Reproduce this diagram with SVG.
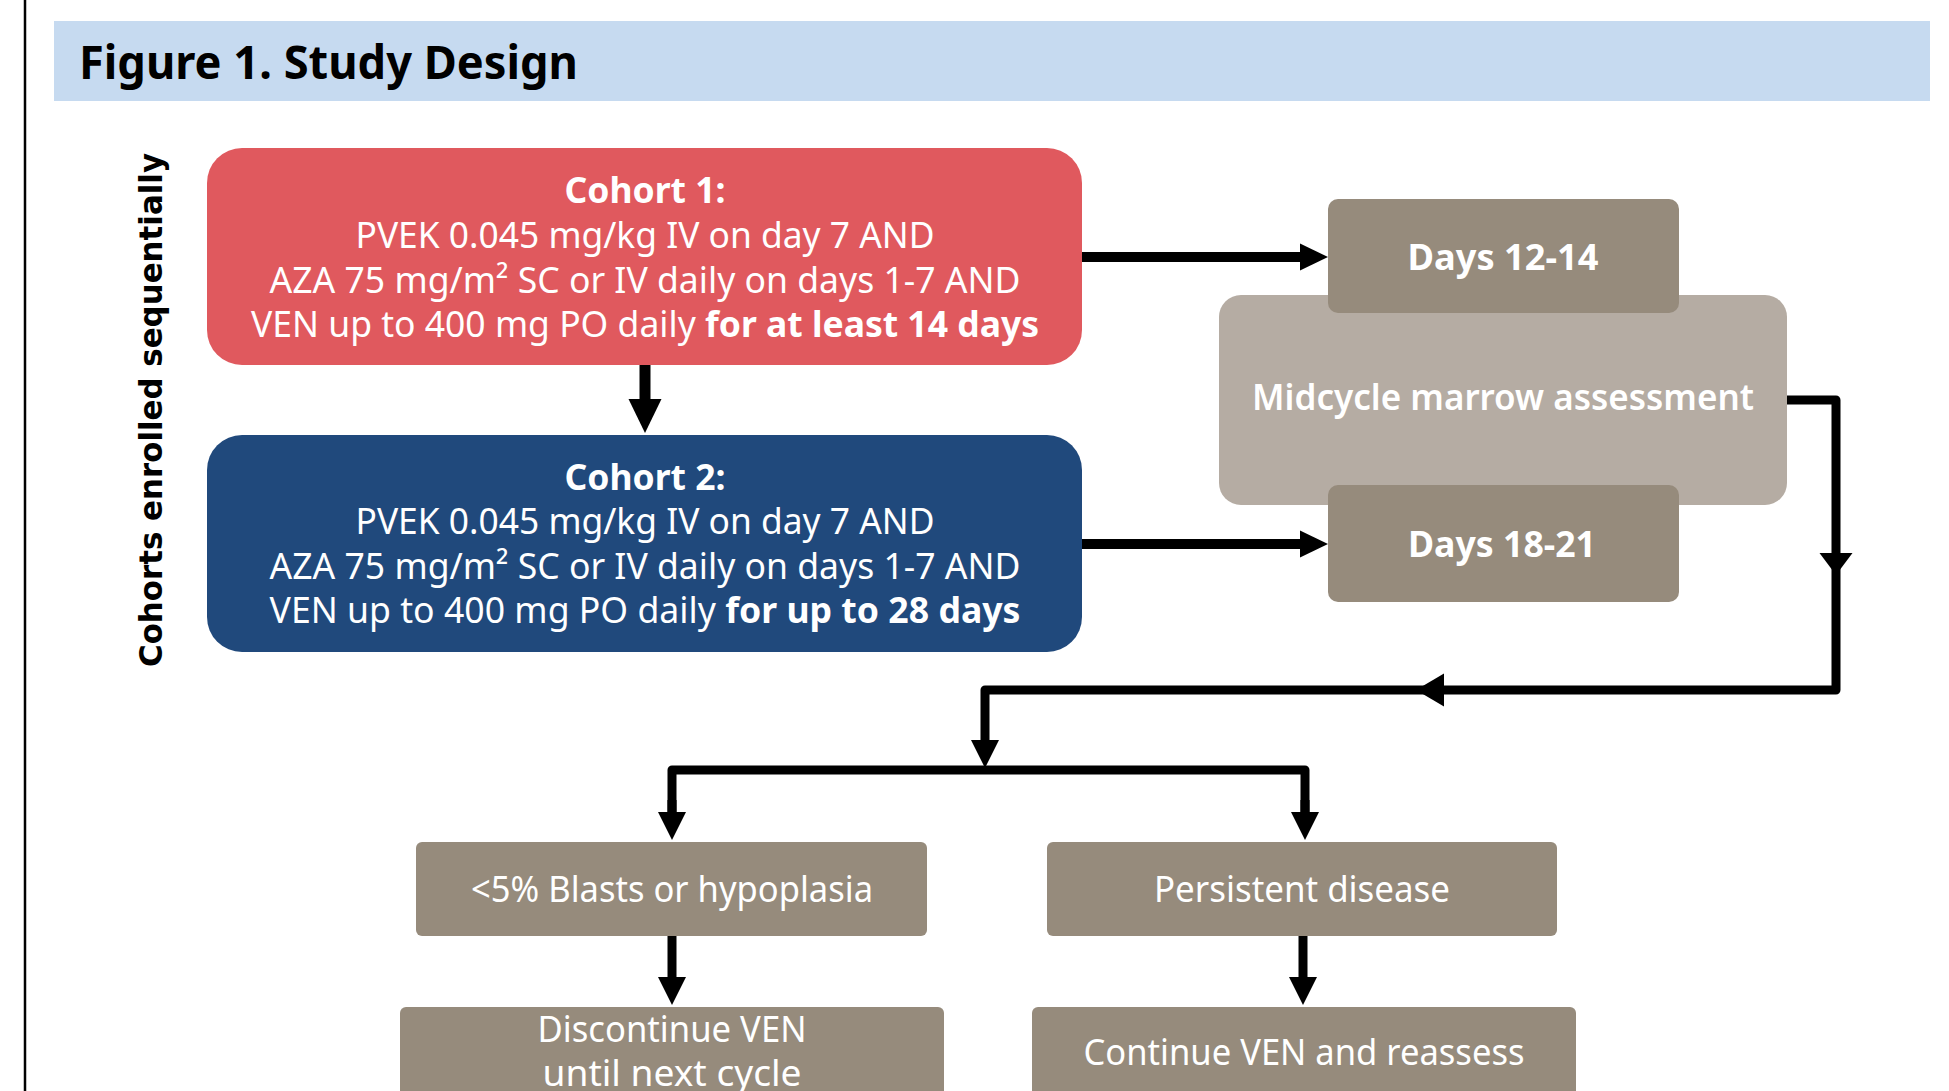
<svg xmlns="http://www.w3.org/2000/svg" width="1949" height="1091" viewBox="0 0 1949 1091">
  <style>
    .t { font-family: "Noto Sans", "DejaVu Sans", sans-serif; fill: #ffffff; text-anchor: middle; font-size: 36px; }
    .b { font-weight: bold; }
    .title { font-family: "Noto Sans", "DejaVu Sans", sans-serif; font-weight: bold; font-size: 47px; fill: #000000; }
    .side { font-family: "DejaVu Sans", "Noto Sans", sans-serif; font-weight: bold; font-size: 32px; fill: #000000; text-anchor: middle; }
    .ln { fill: none; stroke: #000000; stroke-linejoin: round; }
    .brown { fill: #968b7c; }
  </style>
  <defs>
    <marker id="ahV" markerUnits="userSpaceOnUse" viewBox="0 -20 40 40" markerWidth="40" markerHeight="40" refX="0" refY="0" orient="auto">
      <path d="M0,-16.5 L34,0 L0,16.5 Z" fill="#000"/>
    </marker>
    <marker id="ahH" markerUnits="userSpaceOnUse" viewBox="0 -20 40 40" markerWidth="40" markerHeight="40" refX="0" refY="0" orient="auto">
      <path d="M0,-13.5 L28,0 L0,13.5 Z" fill="#000"/>
    </marker>
    <marker id="ahMidD" markerUnits="userSpaceOnUse" viewBox="0 -20 40 40" markerWidth="40" markerHeight="40" refX="0" refY="0" orient="auto">
      <path d="M0,-16.5 L22,0 L0,16.5 Z" fill="#000"/>
    </marker>
    <marker id="ahMidL" markerUnits="userSpaceOnUse" viewBox="0 -20 40 40" markerWidth="40" markerHeight="40" refX="0" refY="0" orient="auto">
      <path d="M0,-16.5 L28,0 L0,16.5 Z" fill="#000"/>
    </marker>
    <marker id="ahS" markerUnits="userSpaceOnUse" viewBox="0 -20 40 40" markerWidth="40" markerHeight="40" refX="0" refY="0" orient="auto">
      <path d="M0,-14 L28,0 L0,14 Z" fill="#000"/>
    </marker>
  </defs>

  <rect width="1949" height="1091" fill="#ffffff"/>
  <line x1="25" y1="0" x2="25" y2="1091" stroke="#000" stroke-width="2.5"/>

  <g id="header">
    <rect x="54" y="21" width="1876" height="80" fill="#c6daf0"/>
    <text class="title" x="79" y="79" textLength="499" lengthAdjust="spacingAndGlyphs">Figure 1. Study Design</text>
  </g>

  <g id="side-label">
    <text class="side" transform="translate(162,410) rotate(-90)" x="0" y="0" textLength="514" lengthAdjust="spacingAndGlyphs">Cohorts enrolled sequentially</text>
  </g>

  <g id="cohort1">
    <rect x="207" y="148" width="875" height="217" rx="35" ry="35" fill="#e0595e"/>
    <text class="t b" x="645" y="203" textLength="161" lengthAdjust="spacingAndGlyphs">Cohort 1:</text>
    <text class="t" x="645" y="248" textLength="579" lengthAdjust="spacingAndGlyphs">PVEK 0.045 mg/kg IV on day 7 AND</text>
    <text class="t" x="645" y="293" textLength="751" lengthAdjust="spacingAndGlyphs">AZA 75 mg/m² SC or IV daily on days 1-7 AND</text>
    <text class="t" x="645" y="337" textLength="788" lengthAdjust="spacingAndGlyphs">VEN up to 400 mg PO daily <tspan class="b">for at least 14 days</tspan></text>
  </g>

  <g id="cohort2">
    <rect x="207" y="435" width="875" height="217" rx="35" ry="35" fill="#20497c"/>
    <text class="t b" x="645" y="490" textLength="161" lengthAdjust="spacingAndGlyphs">Cohort 2:</text>
    <text class="t" x="645" y="534" textLength="579" lengthAdjust="spacingAndGlyphs">PVEK 0.045 mg/kg IV on day 7 AND</text>
    <text class="t" x="645" y="579" textLength="751" lengthAdjust="spacingAndGlyphs">AZA 75 mg/m² SC or IV daily on days 1-7 AND</text>
    <text class="t" x="645" y="623" textLength="751" lengthAdjust="spacingAndGlyphs">VEN up to 400 mg PO daily <tspan class="b">for up to 28 days</tspan></text>
  </g>

  <g id="midcycle">
    <rect x="1219" y="295" width="568" height="210" rx="22" ry="22" fill="#b5aca3"/>
    <text class="t" x="1503" y="410" font-size="35" font-weight="600" textLength="502" lengthAdjust="spacingAndGlyphs">Midcycle marrow assessment</text>
  </g>

  <g id="days12">
    <rect class="brown" x="1328" y="199" width="351" height="114" rx="10" ry="10"/>
    <text class="t b" x="1503" y="270" font-size="34" textLength="191" lengthAdjust="spacingAndGlyphs">Days 12-14</text>
  </g>

  <g id="days18">
    <rect class="brown" x="1328" y="485" width="351" height="117" rx="10" ry="10"/>
    <text class="t b" x="1502" y="557" font-size="34" textLength="188" lengthAdjust="spacingAndGlyphs">Days 18-21</text>
  </g>

  <g id="blasts">
    <rect class="brown" x="416" y="842" width="511" height="94" rx="6" ry="6"/>
    <text class="t" x="672" y="902" font-size="35" textLength="402" lengthAdjust="spacingAndGlyphs">&lt;5% Blasts or hypoplasia</text>
  </g>

  <g id="persistent">
    <rect class="brown" x="1047" y="842" width="510" height="94" rx="6" ry="6"/>
    <text class="t" x="1302" y="902" font-size="35" textLength="296" lengthAdjust="spacingAndGlyphs">Persistent disease</text>
  </g>

  <g id="discontinue">
    <rect class="brown" x="400" y="1007" width="544" height="110" rx="6" ry="6"/>
    <text class="t" x="672" y="1042" font-size="35" textLength="269" lengthAdjust="spacingAndGlyphs">Discontinue VEN</text>
    <text class="t" x="672" y="1086" font-size="35" textLength="259" lengthAdjust="spacingAndGlyphs">until next cycle</text>
  </g>

  <g id="continue">
    <rect class="brown" x="1032" y="1007" width="544" height="110" rx="6" ry="6"/>
    <text class="t" x="1304" y="1065" font-size="35" textLength="441" lengthAdjust="spacingAndGlyphs">Continue VEN and reassess</text>
  </g>

  <g id="connectors">
    <path class="ln" d="M645,365 V399" stroke-width="11" marker-end="url(#ahV)"/>
    <path class="ln" d="M1082,257 H1300" stroke-width="10" marker-end="url(#ahH)"/>
    <path class="ln" d="M1082,544 H1300" stroke-width="10" marker-end="url(#ahH)"/>
    <path class="ln" d="M1787,400 H1836 V553" stroke-width="9" marker-end="url(#ahMidD)"/>
    <path class="ln" d="M1836,560 V690 H1444" stroke-width="9" marker-end="url(#ahMidL)"/>
    <path class="ln" d="M1430,690 H985 V740" stroke-width="9" marker-end="url(#ahS)"/>
    <path class="ln" d="M672,812 V770 H1305 V812" stroke-width="9"/>
    <path class="ln" d="M672,800 V812" stroke-width="9" marker-end="url(#ahS)"/>
    <path class="ln" d="M1305,800 V812" stroke-width="9" marker-end="url(#ahS)"/>
    <path class="ln" d="M672,936 V977" stroke-width="9" marker-end="url(#ahS)"/>
    <path class="ln" d="M1303,936 V977" stroke-width="9" marker-end="url(#ahS)"/>
  </g>
</svg>
